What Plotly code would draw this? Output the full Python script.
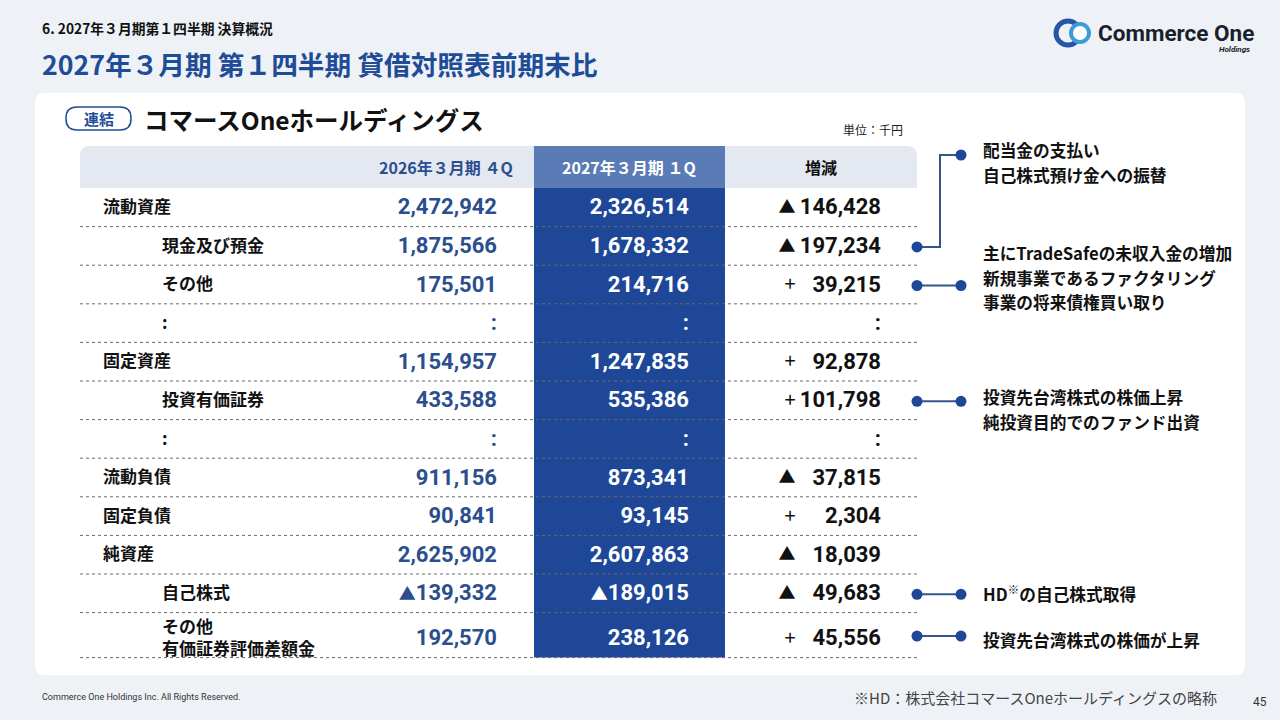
import plotly.graph_objects as go

# ---- table data (千円) ----
row_labels = ["流動資産", "現金及び預金", "その他", ":", "固定資産", "投資有価証券", ":",
              "流動負債", "固定負債", "純資産", "自己株式", "その他<br>有価証券評価差額金"]
row_level = [0, 1, 1, 1, 0, 1, 1, 0, 0, 0, 1, 1]
prev_4q = [2472942, 1875566, 175501, None, 1154957, 433588, None,
           911156, 90841, 2625902, -139332, 192570]
cur_1q = [2326514, 1678332, 214716, None, 1247835, 535386, None,
          873341, 93145, 2607863, -189015, 238126]
change = [-146428, -197234, 39215, None, 92878, 101798, None,
          -37815, 2304, -18039, -49683, 45556]
col_headers = ["2026年３月期 ４Q", "2027年３月期 １Q", "増減"]

# ---- callouts: row they point at, text lines ----
callout_rows = [1, 2, 5, 10, 11]
callout_texts = [
    ["配当金の支払い", "自己株式預け金への振替"],
    ["主にTradeSafeの未収入金の増加", "新規事業であるファクタリング", "事業の将来債権買い取り"],
    ["投資先台湾株式の株価上昇", "純投資目的でのファンド出資"],
    ["HD<sup>※</sup>の自己株式取得"],
    ["投資先台湾株式の株価が上昇"],
]

# ---- colours / fonts ----
BG = "#eef2f7"
BLUE = "#1f4c97"
DARK_COL = "#1e4798"
LIGHT_COL = "#5a7bb5"
HEAD_BG = "#e3e8f1"
NUM_BLUE = "#2b4f8e"
JP = "Noto Sans CJK JP"
NUM = "Roboto, Noto Sans CJK JP"

# table geometry
TX0, TX1 = 80, 917
HEAD_Y0, HEAD_Y1 = 146, 188
COL2_X0, COL2_X1 = 534, 725
LABEL_X = [103, 162]
X_PREV, X_CUR, X_CHG, X_SIGN = 497, 689, 881, 787


def fmt(v):
    if v is None:
        return ":"
    tri = '<span style="font-size:17px">▲</span>' if v < 0 else ""
    return tri + f"{abs(v):,}"


def rrect(x0, y0, x1, y1, r, top_only=False):
    rb = 0 if top_only else r
    return (f"M {x0 + r},{y0} L {x1 - r},{y0} Q {x1},{y0} {x1},{y0 + r} "
            f"L {x1},{y1 - rb} Q {x1},{y1} {x1 - rb},{y1} L {x0 + rb},{y1} "
            f"Q {x0},{y1} {x0},{y1 - rb} L {x0},{y0 + r} Q {x0},{y0} {x0 + r},{y0} Z")


# row boundaries: two-line rows are taller
bounds = [HEAD_Y1]
for lab in row_labels:
    bounds.append(bounds[-1] + (45 if "<br>" in lab else 38.6))
centers = [(a + b) / 2 for a, b in zip(bounds[:-1], bounds[1:])]
# text baseline nudge (multi-line text sits higher in plotly)
text_y = [c + (4.5 if "<br>" in lab else 1.5) for c, lab in zip(centers, row_labels)]

fig = go.Figure()

shapes = [
    dict(type="path", path=rrect(35, 93, 1245, 675, 9), fillcolor="white", line_width=0),
    dict(type="path", path=rrect(TX0, HEAD_Y0, TX1, HEAD_Y1, 10, top_only=True),
         fillcolor=HEAD_BG, line_width=0),
    dict(type="rect", x0=COL2_X0, x1=COL2_X1, y0=HEAD_Y0, y1=HEAD_Y1, fillcolor=LIGHT_COL, line_width=0),
    dict(type="rect", x0=COL2_X0, x1=COL2_X1, y0=HEAD_Y1, y1=bounds[-1], fillcolor=DARK_COL, line_width=0),
    dict(type="path", path=rrect(66, 107, 131, 130, 11), fillcolor="white",
         line=dict(color=BLUE, width=1.5)),
    # logo rings
    dict(type="circle", x0=1056, x1=1080, y0=21, y1=45, line=dict(color="#2556a8", width=5)),
    dict(type="circle", x0=1071, x1=1089, y0=24, y1=42, fillcolor="white",
         line=dict(color="#3c9bd8", width=4)),
]
for yb in bounds[1:]:
    shapes.append(dict(type="line", x0=TX0, x1=TX1, y0=yb, y1=yb,
                       line=dict(color="#6a6a6a", width=1, dash="dot")))
for s in shapes:
    s.update(xref="x", yref="y", layer="below")

# row labels
for lvl in (0, 1):
    idx = [i for i, l in enumerate(row_level) if l == lvl]
    fig.add_trace(go.Scatter(
        x=[LABEL_X[lvl]] * len(idx), y=[text_y[i] for i in idx],
        text=[row_labels[i] for i in idx], mode="text", textposition="middle right",
        textfont=dict(family=JP, size=17, color="#111111", weight="bold"), hoverinfo="skip"))

# value columns
fig.add_trace(go.Scatter(x=[X_PREV] * len(prev_4q), y=text_y, text=[fmt(v) for v in prev_4q],
                         mode="text", textposition="middle left",
                         textfont=dict(family=NUM, size=22, color=NUM_BLUE, weight="bold"),
                         hoverinfo="skip"))
fig.add_trace(go.Scatter(x=[X_CUR] * len(cur_1q), y=text_y, text=[fmt(v) for v in cur_1q],
                         mode="text", textposition="middle left",
                         textfont=dict(family=NUM, size=22, color="white", weight="bold"),
                         hoverinfo="skip"))
fig.add_trace(go.Scatter(x=[X_CHG] * len(change), y=text_y,
                         text=[":" if v is None else f"{abs(v):,}" for v in change],
                         mode="text", textposition="middle left",
                         textfont=dict(family=NUM, size=22, color="#111111", weight="bold"),
                         hoverinfo="skip"))
neg = [i for i, v in enumerate(change) if v is not None and v < 0]
pos = [i for i, v in enumerate(change) if v is not None and v > 0]
fig.add_trace(go.Scatter(x=[X_SIGN] * len(neg), y=[text_y[i] for i in neg], text=["▲"] * len(neg),
                         mode="text", textfont=dict(family=JP, size=17, color="#111111"),
                         hoverinfo="skip"))
fig.add_trace(go.Scatter(x=[X_SIGN + 3] * len(pos), y=[text_y[i] for i in pos], text=["+"] * len(pos),
                         mode="text", textfont=dict(family=JP, size=20, color="#111111"),
                         hoverinfo="skip"))

# callouts
callout_y = [150, 253, 397, 593, 640]
line_c = "#34548c"
dots_x, dots_y = [], []
for k, (r, ty) in enumerate(zip(callout_rows, callout_y)):
    ry = centers[r] + 1
    if k == 0:
        xs, ys = [917, 940, 940, 961], [ry, ry, ty + 5, ty + 5]
    else:
        xs, ys = [917, 961], [ry, ry]
    fig.add_trace(go.Scatter(x=xs, y=ys, mode="lines", line=dict(color=line_c, width=2),
                             hoverinfo="skip"))
    dots_x += [xs[0], xs[-1]]
    dots_y += [ys[0], ys[-1]]
fig.add_trace(go.Scatter(x=dots_x, y=dots_y, mode="markers",
                         marker=dict(size=11, color=DARK_COL), hoverinfo="skip"))

ann = []
for lines, ty in zip(callout_texts, callout_y):
    for j, t in enumerate(lines):
        ann.append(dict(x=981, y=ty + j * 24.5, text=t, xanchor="left",
                        font=dict(family=JP, size=16.7, color="#111111", weight="bold")))

# headers and page furniture
ann += [
    dict(x=40, y=28, text="6. 2027年３月期第１四半期 決算概況", xanchor="left",
         font=dict(family=JP, size=13.8, color="#111111", weight="bold")),
    dict(x=40, y=63, text="2027年３月期 第１四半期 貸借対照表前期末比", xanchor="left",
         font=dict(family=JP, size=26.7, color=BLUE, weight="bold")),
    dict(x=98.5, y=118.5, text="連結", font=dict(family=JP, size=15, color=BLUE, weight="bold")),
    dict(x=142, y=119, text="コマースOneホールディングス", xanchor="left",
         font=dict(family=JP, size=24.5, color="#111111", weight="bold")),
    dict(x=905, y=129, text="単位：千円", xanchor="right",
         font=dict(family=JP, size=12, color="#222222")),
    dict(x=515, y=167, text=col_headers[0], xanchor="right",
         font=dict(family=JP, size=16, color=NUM_BLUE, weight="bold")),
    dict(x=629, y=167, text=col_headers[1],
         font=dict(family=JP, size=16, color="white", weight="bold")),
    dict(x=821, y=167, text=col_headers[2],
         font=dict(family=JP, size=16, color="#111111", weight="bold")),
    dict(x=1096, y=33, text="Commerce One", xanchor="left",
         font=dict(family="Roboto", size=22.5, color="#1b1e2c", weight="bold")),
    dict(x=1252, y=49, text="<i>Holdings</i>", xanchor="right",
         font=dict(family="Roboto", size=8, color="#1b1e2c", weight="bold")),
    dict(x=40, y=697, text="Commerce One Holdings Inc. All Rights Reserved.", xanchor="left",
         font=dict(family="Roboto", size=9, color="#333333")),
    dict(x=1219, y=697, text="※HD：株式会社コマースOneホールディングスの略称", xanchor="right",
         font=dict(family=JP, size=15, color="#444444")),
    dict(x=1260, y=702, text="45", font=dict(family="Roboto", size=12, color="#333333")),
]
for a in ann:
    a.update(xref="x", yref="y", showarrow=False)
    a.setdefault("yanchor", "middle")

fig.update_layout(
    width=1280, height=720, margin=dict(l=0, r=0, t=0, b=0),
    paper_bgcolor=BG, plot_bgcolor=BG, showlegend=False,
    xaxis=dict(range=[0, 1280], visible=False, fixedrange=True),
    yaxis=dict(range=[720, 0], visible=False, fixedrange=True),
    shapes=shapes, annotations=ann,
)

fig.write_html("out.html", config={"displayModeBar": False},
               post_script=f"document.body.style.margin='0';document.body.style.background='{BG}';"
                           "document.body.style.overflow='hidden';")
